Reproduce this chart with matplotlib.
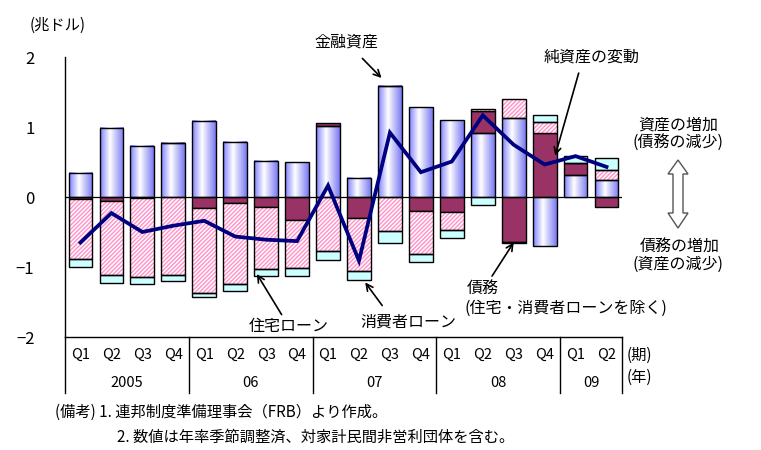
import numpy as np
import matplotlib
matplotlib.use('Agg')
import matplotlib.pyplot as plt
from matplotlib.colors import LinearSegmentedColormap
from matplotlib.transforms import blended_transform_factory
from matplotlib.patches import Polygon

plt.rcParams['font.family'] = ['Noto Sans CJK JP', 'DejaVu Sans']
plt.rcParams['hatch.linewidth'] = 1.1
plt.rcParams['axes.unicode_minus'] = True

# ---------------- data ----------------
quarters = ['Q1', 'Q2', 'Q3', 'Q4', 'Q1', 'Q2', 'Q3', 'Q4', 'Q1', 'Q2', 'Q3', 'Q4',
            'Q1', 'Q2', 'Q3', 'Q4', 'Q1', 'Q2']
year_labels = ['2005', '06', '07', '08', '09']
year_sizes = [4, 4, 4, 4, 2]

financial_assets = [0.345, 0.99, 0.73, 0.775, 1.09, 0.79, 0.517, 0.50, 1.015, 0.273,
                    1.59, 1.28, 1.10, 0.918, 1.133, -0.70, 0.316, 0.248]
other_debt = [-0.03, -0.05, -0.015, 0.0, -0.16, -0.086, -0.144, -0.33, 0.043, -0.30,
              0.0, -0.205, -0.215, 0.306, -0.646, 0.918, 0.166, -0.139]
housing_loans = [-0.86, -1.06, -1.13, -1.115, -1.205, -1.16, -0.89, -0.69, -0.775, -0.76,
                 -0.48, -0.61, -0.26, 0.038, 0.273, 0.153, 0.0, 0.139]
consumer_loans = [-0.115, -0.115, -0.10, -0.086, -0.057, -0.10, -0.10, -0.115, -0.13, -0.13,
                  -0.18, -0.115, -0.115, -0.11, -0.01, 0.096, 0.105, 0.172]
net_worth_change = [-0.65, -0.23, -0.50, -0.41, -0.34, -0.565, -0.61, -0.63, 0.163, -0.91,
                    0.92, 0.354, 0.507, 1.167, 0.746, 0.464, 0.584, 0.43]

yticks = [-2, -1, 0, 1, 2]

# ---------------- figure ----------------
W, H = 761, 450
fig = plt.figure(figsize=(W / 100, H / 100), dpi=100)
ax = fig.add_axes([65 / W, (H - 337) / H, 557 / W, 280 / H])

n = len(quarters)
x = np.arange(n)
bw = 0.77

series = [np.array(financial_assets), np.array(other_debt),
          np.array(housing_loans), np.array(consumer_loans)]
pos_base = np.zeros(n)
neg_base = np.zeros(n)
bottoms = []
for s in series:
    bottoms.append(np.where(s >= 0, pos_base, neg_base))
    pos_base = pos_base + np.where(s > 0, s, 0)
    neg_base = neg_base + np.where(s < 0, s, 0)

ax.axhline(0, color='black', lw=0.9, zorder=1)

# financial assets: gradient bars
cmap = LinearSegmentedColormap.from_list(
    'cyl', [(0.0, '#7f7fff'), (0.42, '#ffffff'), (1.0, '#7878f2')])
grad = np.linspace(0, 1, 128).reshape(1, -1)
bars = ax.bar(x, series[0], bottom=bottoms[0], width=bw, facecolor='none',
              edgecolor='black', lw=1.0, zorder=4)
for p in bars.patches:
    x0, y0 = p.get_x(), p.get_y()
    ax.imshow(grad, cmap=cmap, extent=(x0, x0 + p.get_width(), y0, y0 + p.get_height()),
              aspect='auto', zorder=2, interpolation='bilinear')

# other debt
ax.bar(x, series[1], bottom=bottoms[1], width=bw, facecolor='#993366',
       edgecolor='black', lw=1.0, zorder=3)
# housing loans (hatched)
ax.bar(x, series[2], bottom=bottoms[2], width=bw, facecolor='white',
       edgecolor='#ff99cc', hatch='////////', lw=0, zorder=3)
ax.bar(x, series[2], bottom=bottoms[2], width=bw, facecolor='none',
       edgecolor='black', lw=1.0, zorder=4)
# consumer loans
ax.bar(x, series[3], bottom=bottoms[3], width=bw, facecolor='#ccffff',
       edgecolor='black', lw=1.0, zorder=3)

# net worth change line
ax.plot(x, net_worth_change, color='#000080', lw=2.7, zorder=6,
        solid_joinstyle='miter')

ax.set_xlim(-0.5, n - 0.5)
ax.set_ylim(-2, 2)
ax.set_yticks(yticks)
ax.set_yticklabels([str(v).replace('-', '\u2212') for v in yticks], fontsize=12)
ax.tick_params(axis='y', length=0, pad=22)
ax.set_xticks([])
for s in ['top', 'right']:
    ax.spines[s].set_visible(False)
ax.spines['left'].set_linewidth(1.0)
ax.spines['bottom'].set_linewidth(1.0)

# category table under the axis
tr = blended_transform_factory(ax.transData, ax.transAxes)
for i, q in enumerate(quarters):
    ax.text(i, -0.064, q, transform=tr, ha='center', va='center', fontsize=10.5)
start = 0
seps = [-0.5]
for lab, size in zip(year_labels, year_sizes):
    ax.text(start + (size - 1) / 2, -0.164, lab, transform=tr, ha='center',
            va='center', fontsize=10.5)
    start += size
    seps.append(start - 0.5)
for sx in seps:
    ax.plot([sx, sx], [0, -0.2], transform=tr, color='black', lw=1.0, clip_on=False)


def fp(xp, yp):
    return (xp / W, 1 - yp / H)


fig.text(*fp(627, 355), '(期)', ha='left', va='center', fontsize=11)
fig.text(*fp(627, 377), '(年)', ha='left', va='center', fontsize=11)
fig.text(*fp(58, 25), '(兆ドル)', ha='center', va='center', fontsize=11)

# annotations
akw = dict(arrowstyle='->', color='black', lw=1.2, shrinkA=0, shrinkB=0,
           mutation_scale=12)
ax.annotate('', xy=(9.73, 1.70), xytext=(9.11, 1.98), arrowprops=akw,
            annotation_clip=False)
fig.text(*fp(346, 42), '金融資産', ha='center', va='center', fontsize=11.5)

ax.annotate('', xy=(15.34, 0.59), xytext=(16.1, 1.77), arrowprops=akw,
            annotation_clip=False)
fig.text(*fp(592, 57), '純資産の変動', ha='center', va='center', fontsize=11.5)

ax.annotate('', xy=(14.0, -0.65), xytext=(13.3, -1.13), arrowprops=akw,
            annotation_clip=False)
fig.text(*fp(467, 288), '債務', ha='left', va='center', fontsize=11.5)
fig.text(*fp(464, 308), '(住宅・消費者ローンを除く)', ha='left', va='center', fontsize=11.5)

ax.annotate('', xy=(5.7, -1.1), xytext=(6.5, -1.68), arrowprops=akw,
            annotation_clip=False)
fig.text(*fp(289, 326), '住宅ローン', ha='center', va='center', fontsize=11.5)

ax.annotate('', xy=(9.2, -1.22), xytext=(9.75, -1.55), arrowprops=akw,
            annotation_clip=False)
fig.text(*fp(408, 322), '消費者ローン', ha='center', va='center', fontsize=11.5)

fig.text(*fp(678, 125), '資産の増加', ha='center', va='center', fontsize=11.5)
fig.text(*fp(678, 143), '(債務の減少)', ha='center', va='center', fontsize=11.5)
fig.text(*fp(680, 247), '債務の増加', ha='center', va='center', fontsize=11.5)
fig.text(*fp(678, 264), '(資産の減少)', ha='center', va='center', fontsize=11.5)

# hollow double arrow
pts = [(678, 160), (668, 174), (673, 174), (673, 213), (668, 213), (678, 228),
       (688, 213), (683, 213), (683, 174), (688, 174)]
fig.patches.append(Polygon([fp(a, b) for a, b in pts], closed=True,
                           transform=fig.transFigure, facecolor='white',
                           edgecolor='#555555', lw=1.0))

# notes
fig.text(*fp(55, 412), '(備考) 1. 連邦制度準備理事会（FRB）より作成。', ha='left',
         va='center', fontsize=11)
fig.text(*fp(117, 437), '2. 数値は年率季節調整済、対家計民間非営利団体を含む。', ha='left',
         va='center', fontsize=11)

fig.savefig('out.png', dpi=100)
